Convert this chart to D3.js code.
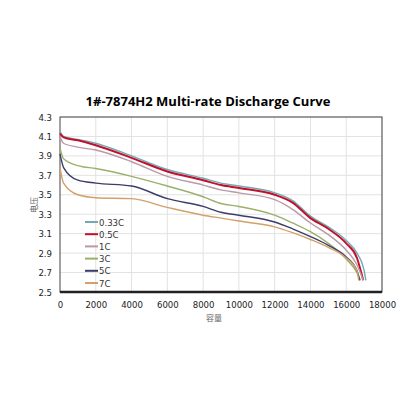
<!DOCTYPE html>
<html><head><meta charset="utf-8">
<script src="https://cdn.jsdelivr.net/npm/d3@7"></script>
<style>body{margin:0;background:#fff}</style></head>
<body><div id="chart"></div>
<script>
var capacity = [0, 200, 1000, 2000, 4000, 6000, 8000, 9000, 10000, 12000, 13000, 14000, 15000, 16000, 16600, 17000];
var series = ['0.33C', '0.5C', '1C', '3C', '5C', '7C'];
var colors = ['#72a9b6', '#c0102a', '#b89aa8', '#9ab06a', '#3c3c6a', '#d4a06a'];
var volts = [
  [4.15, 4.10, 4.07, 4.03, 3.90, 3.76, 3.67, 3.62, 3.59, 3.52, 3.44, 3.28, 3.17, 3.03, 2.90, 2.72],
  [4.13, 4.09, 4.06, 4.01, 3.88, 3.74, 3.65, 3.60, 3.57, 3.50, 3.42, 3.26, 3.15, 3.00, 2.85, 2.65],
  [4.10, 4.03, 3.99, 3.96, 3.84, 3.69, 3.60, 3.55, 3.52, 3.45, 3.35, 3.21, 3.09, 2.93, 2.78, 2.63],
  [3.98, 3.87, 3.80, 3.77, 3.69, 3.59, 3.48, 3.41, 3.38, 3.29, 3.21, 3.12, 3.00, 2.84, 2.70, null],
  [3.92, 3.78, 3.65, 3.62, 3.59, 3.46, 3.38, 3.32, 3.29, 3.22, 3.15, 3.07, 2.98, 2.86, 2.72, null],
  [3.78, 3.62, 3.50, 3.47, 3.46, 3.37, 3.29, 3.26, 3.23, 3.17, 3.11, 3.04, 2.96, 2.85, 2.72, null]
];
var endCap = [17100, 16950, 16950, 16800, 16750, 16700];
var xTicks = d3.range(0, 18001, 2000);
var yTicks = [2.5, 2.7, 2.9, 3.1, 3.3, 3.5, 3.7, 3.9, 4.1, 4.3];

var W = 416, H = 416;
var svg = d3.select('#chart').append('svg').attr('width', W).attr('height', H);
var x = d3.scaleLinear().domain([0, 18000]).range([60, 382]);
var y = d3.scaleLinear().domain([2.5, 4.3]).range([292, 117]);
var font = '"Liberation Sans Narrow", "DejaVu Sans Condensed", sans-serif';

svg.append('text').attr('x', 208).attr('y', 106).attr('text-anchor', 'middle')
   .attr('font-family', '"Open Sans", sans-serif').attr('font-weight', 'bold').attr('font-size', 13)
   .text('1#-7874H2 Multi-rate Discharge Curve');

// grid
svg.selectAll('.gx').data(xTicks.slice(1)).enter().append('line')
   .attr('x1', x).attr('x2', x).attr('y1', 117).attr('y2', 292).attr('stroke', '#e2e2e2');
svg.selectAll('.gy').data(yTicks.slice(1)).enter().append('line')
   .attr('y1', y).attr('y2', y).attr('x1', 60).attr('x2', 382).attr('stroke', '#e2e2e2');
svg.append('rect').attr('x', 60).attr('y', 117).attr('width', 322).attr('height', 175)
   .attr('fill', 'none').attr('stroke', '#444').attr('stroke-width', 1);
svg.append('line').attr('x1', 60).attr('x2', 382).attr('y1', 292).attr('y2', 292)
   .attr('stroke', '#222').attr('stroke-width', 2.5);

var xa = svg.append('g').attr('transform', 'translate(0,292)')
   .call(d3.axisBottom(x).tickValues(xTicks).tickSize(0).tickPadding(9).tickFormat(d3.format('d')));
var ya = svg.append('g').attr('transform', 'translate(60,0)')
   .call(d3.axisLeft(y).tickValues(yTicks).tickSize(0).tickPadding(8).tickFormat(d3.format('.1f')));
[xa, ya].forEach(function(a) {
  a.select('.domain').remove();
  a.selectAll('text').attr('font-family', font).attr('font-size', 9.5).attr('fill', '#222');
});

svg.append('text').attr('x', 214).attr('y', 321).attr('text-anchor', 'middle')
   .attr('font-family', '"Noto Sans CJK SC"').attr('font-size', 8).attr('fill', '#666').text('容量');
svg.append('text').attr('transform', 'translate(37,205) rotate(-90)').attr('text-anchor', 'middle')
   .attr('font-family', '"Noto Sans CJK SC"').attr('font-size', 8).attr('fill', '#666').text('电压');

var line = d3.line().x(function(d) { return x(d[0]); }).y(function(d) { return y(d[1]); })
   .curve(d3.curveMonotoneX);
var data = series.map(function(s, i) {
  var pts = capacity.map(function(c, j) { return [c, volts[i][j]]; })
    .filter(function(p) { return p[1] !== null && p[0] < endCap[i]; });
  pts.push([endCap[i], 2.62]);
  return pts;
});
svg.selectAll('.curve').data(data).enter().append('path')
   .attr('d', line).attr('fill', 'none')
   .attr('stroke', function(d, i) { return colors[i]; })
   .attr('stroke-width', function(d, i) { return i === 1 ? 2 : 1.4; });

var lg = svg.selectAll('.lg').data(series).enter().append('g')
   .attr('transform', function(d, i) { return 'translate(85,' + (222 + i * 12.2) + ')'; });
lg.append('line').attr('x1', 0).attr('x2', 13)
   .attr('stroke', function(d, i) { return colors[i]; }).attr('stroke-width', 2);
lg.append('text').attr('x', 14).attr('y', 3.5).attr('font-family', font).attr('font-size', 9.5)
   .attr('fill', '#333').text(function(d) { return d; });
</script></body></html>
